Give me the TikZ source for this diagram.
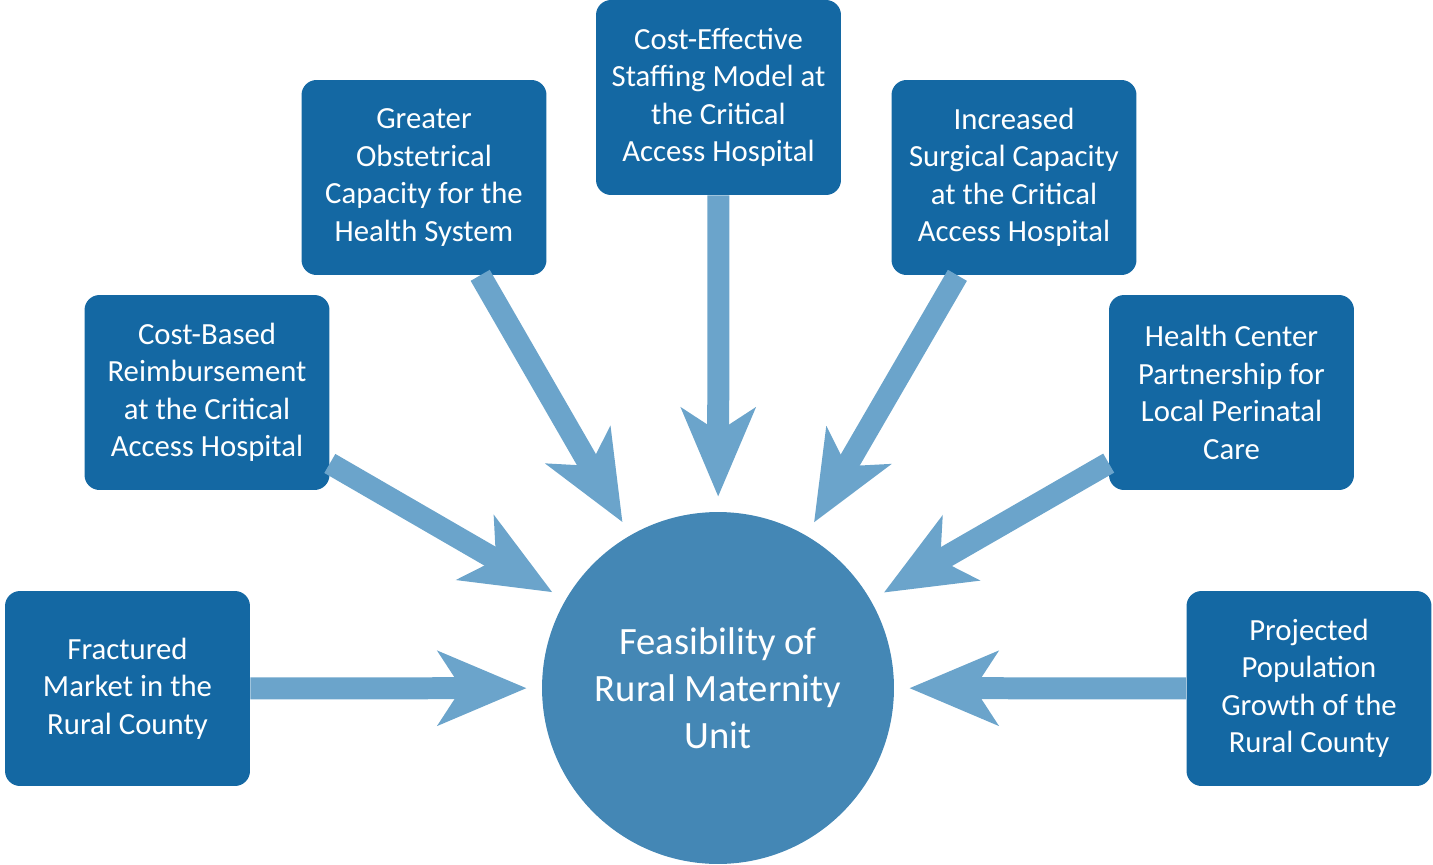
\documentclass[tikz,border=0pt]{standalone}
\usepackage{fontspec}
\setmainfont{Carlito}
\usetikzlibrary{arrows.meta}
\definecolor{boxblue}{HTML}{1468A3}
\definecolor{hubblue}{HTML}{4487B5}
\definecolor{arrowblue}{HTML}{6BA4CB}

\begin{document}
\begin{tikzpicture}[x=0.02cm, y=-0.02cm,
        factor/.style={fill=boxblue, text=white, rounded corners=0.3cm,
            minimum width=4.9cm, minimum height=3.9cm, inner sep=0pt,
            align=center, font=\fontsize{17.5}{21.3}\selectfont},
        hub/.style={circle, fill=hubblue, text=white, minimum size=7.04cm,
            inner sep=0pt, align=center, font=\fontsize{22}{26.7}\selectfont},
        push/.style={arrowblue, line width=0.44cm, shorten >=0.3cm,
            -{Stealth[length=1.76cm, width=1.46cm, inset=0.46cm]}}]
        \useasboundingbox (0, 0) rectangle (1433, 865);
        % the feasibility question in the middle
        \node[hub] (hub) at (718, 688) {Feasibility of\\Rural Maternity\\Unit};
        % factors, left to right round the top
        \node[factor] (market) at (127.5, 688.5) {Fractured\\Market in the\\Rural County};
        \node[factor] (reimb) at (207, 392.5) {Cost-Based\\Reimbursement\\at the Critical\\Access Hospital};
        \node[factor] (obst) at (424, 177.5) {Greater\\Obstetrical\\Capacity for the\\Health System};
        \node[factor] (staff) at (718.5, 97.5) {Cost-Effective\\Staffing Model at\\the Critical\\Access Hospital};
        \node[factor] (surg) at (1014, 177.5) {Increased\\Surgical Capacity\\at the Critical\\Access Hospital};
        \node[factor] (center) at (1231.5, 392.5) {Health Center\\Partnership for\\Local Perinatal\\Care};
        \node[factor] (growth) at (1309, 688.5) {Projected\\Population\\Growth of the\\Rural County};
        % every factor pushes toward the hub
        \foreach \f in {market, reimb, obst, staff, surg, center, growth}
            \draw[push] (\f) -- (hub);
    \end{tikzpicture}
\end{document}
